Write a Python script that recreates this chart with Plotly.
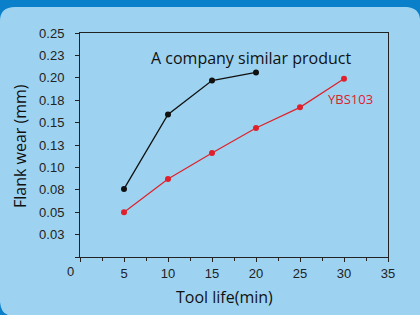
import plotly.graph_objects as go

# ---- data ----
tool_life = [5, 10, 15, 20, 25, 30]
competitor_wear = [0.076, 0.159, 0.197, 0.206]
ybs103_wear = [0.050, 0.087, 0.116, 0.144, 0.167, 0.199]
y_tickvals = [0, 0.025, 0.05, 0.075, 0.10, 0.125, 0.15, 0.175, 0.20, 0.225, 0.25]
y_ticktext = ["", "0.03", "0.05", "0.08", "0.10", "0.13", "0.15", "0.18", "0.20", "0.23", "0.25"]
x_tickvals = [0, 5, 10, 15, 20, 25, 30, 35]
x_ticktext = ["", "5", "10", "15", "20", "25", "30", "35"]

W, H = 420, 315
L, R, T, B = 80, 32, 33, 58
PW, PH = W - L - R, H - T - B
PANEL = "#9DD3F0"
DARK = "#0A80CA"


def px(x):
    return (x - L) / PW


def py(y):
    return (H - B - y) / PH


fig = go.Figure()
fig.add_trace(go.Scatter(
    x=tool_life[:len(competitor_wear)], y=competitor_wear, mode="lines+markers",
    line=dict(color="#111111", width=1.3), marker=dict(color="#111111", size=6),
    showlegend=False))
fig.add_trace(go.Scatter(
    x=tool_life, y=ybs103_wear, mode="lines+markers",
    line=dict(color="#E0202A", width=1.2), marker=dict(color="#E0202A", size=6),
    showlegend=False))

tickfont = dict(family="Liberation Sans, Arial", size=13, color="#222222")
fig.update_xaxes(range=[0, 35], tickvals=x_tickvals, ticktext=x_ticktext,
                 ticks="outside", ticklen=4, tickcolor="#222222", tickwidth=1,
                 minor=dict(dtick=2.5, tick0=0, ticks="outside", ticklen=3, tickcolor="#222222"),
                 showline=True, linecolor="#222222", linewidth=1, mirror=True,
                 showgrid=False, zeroline=False, tickfont=tickfont)
fig.update_yaxes(range=[0, 0.25], tickvals=y_tickvals, ticktext=y_ticktext,
                 ticks="outside", ticklen=4, tickcolor="#222222", tickwidth=1,
                 showline=True, linecolor="#222222", linewidth=1, mirror=True,
                 showgrid=False, zeroline=False, tickfont=tickfont, ticklabelstandoff=8)

titlefont = dict(family="Open Sans", size=16, color="#111111")
fig.add_annotation(text="Tool life(min)", xref="paper", yref="paper", x=px(224), y=py(297),
                   showarrow=False, font=titlefont, xanchor="center", yanchor="middle")
fig.add_annotation(text="Flank wear (mm)", xref="paper", yref="paper", x=px(20), y=py(146),
                   showarrow=False, font=titlefont, textangle=-90, xanchor="center", yanchor="middle")
fig.add_annotation(text="0", xref="paper", yref="paper", x=px(70), y=py(271),
                   showarrow=False, font=tickfont, xanchor="center", yanchor="middle")
fig.add_annotation(text="A company similar product", x=19.4, y=0.222, showarrow=False,
                   font=dict(family="Open Sans", size=16, color="#111111"))
fig.add_annotation(text="YBS103", x=30.7, y=0.176, showarrow=False,
                   font=dict(family="Open Sans", size=13, color="#E0202A"))

# decorative frame: dark strip on top and rounded panel corners
shapes = [
    dict(type="rect", xref="paper", yref="paper", x0=px(0), x1=px(W), y0=py(0), y1=py(7),
         fillcolor=DARK, line=dict(width=0), layer="above"),
    dict(type="path", xref="paper", yref="paper",
         path=f"M {px(0)},{py(7)} L {px(15)},{py(7)} Q {px(0)},{py(7)} {px(0)},{py(21)} Z",
         fillcolor=DARK, line=dict(width=0), layer="above"),
    dict(type="path", xref="paper", yref="paper",
         path=f"M {px(407)},{py(7)} L {px(420)},{py(7)} L {px(420)},{py(19)} Q {px(419)},{py(8)} {px(407)},{py(7)} Z",
         fillcolor=DARK, line=dict(width=0), layer="above"),
    dict(type="path", xref="paper", yref="paper",
         path=f"M {px(0)},{py(302)} Q {px(1)},{py(313)} {px(8)},{py(315)} L {px(0)},{py(315)} Z",
         fillcolor=DARK, line=dict(width=0), layer="above"),
]
fig.update_layout(width=W, height=H, margin=dict(l=L, r=R, t=T, b=B),
                  paper_bgcolor=PANEL, plot_bgcolor=PANEL, shapes=shapes)
fig.write_html("out.html", config={"displayModeBar": False},
               post_script="document.body.style.margin='0px';document.body.style.overflow='hidden';")
